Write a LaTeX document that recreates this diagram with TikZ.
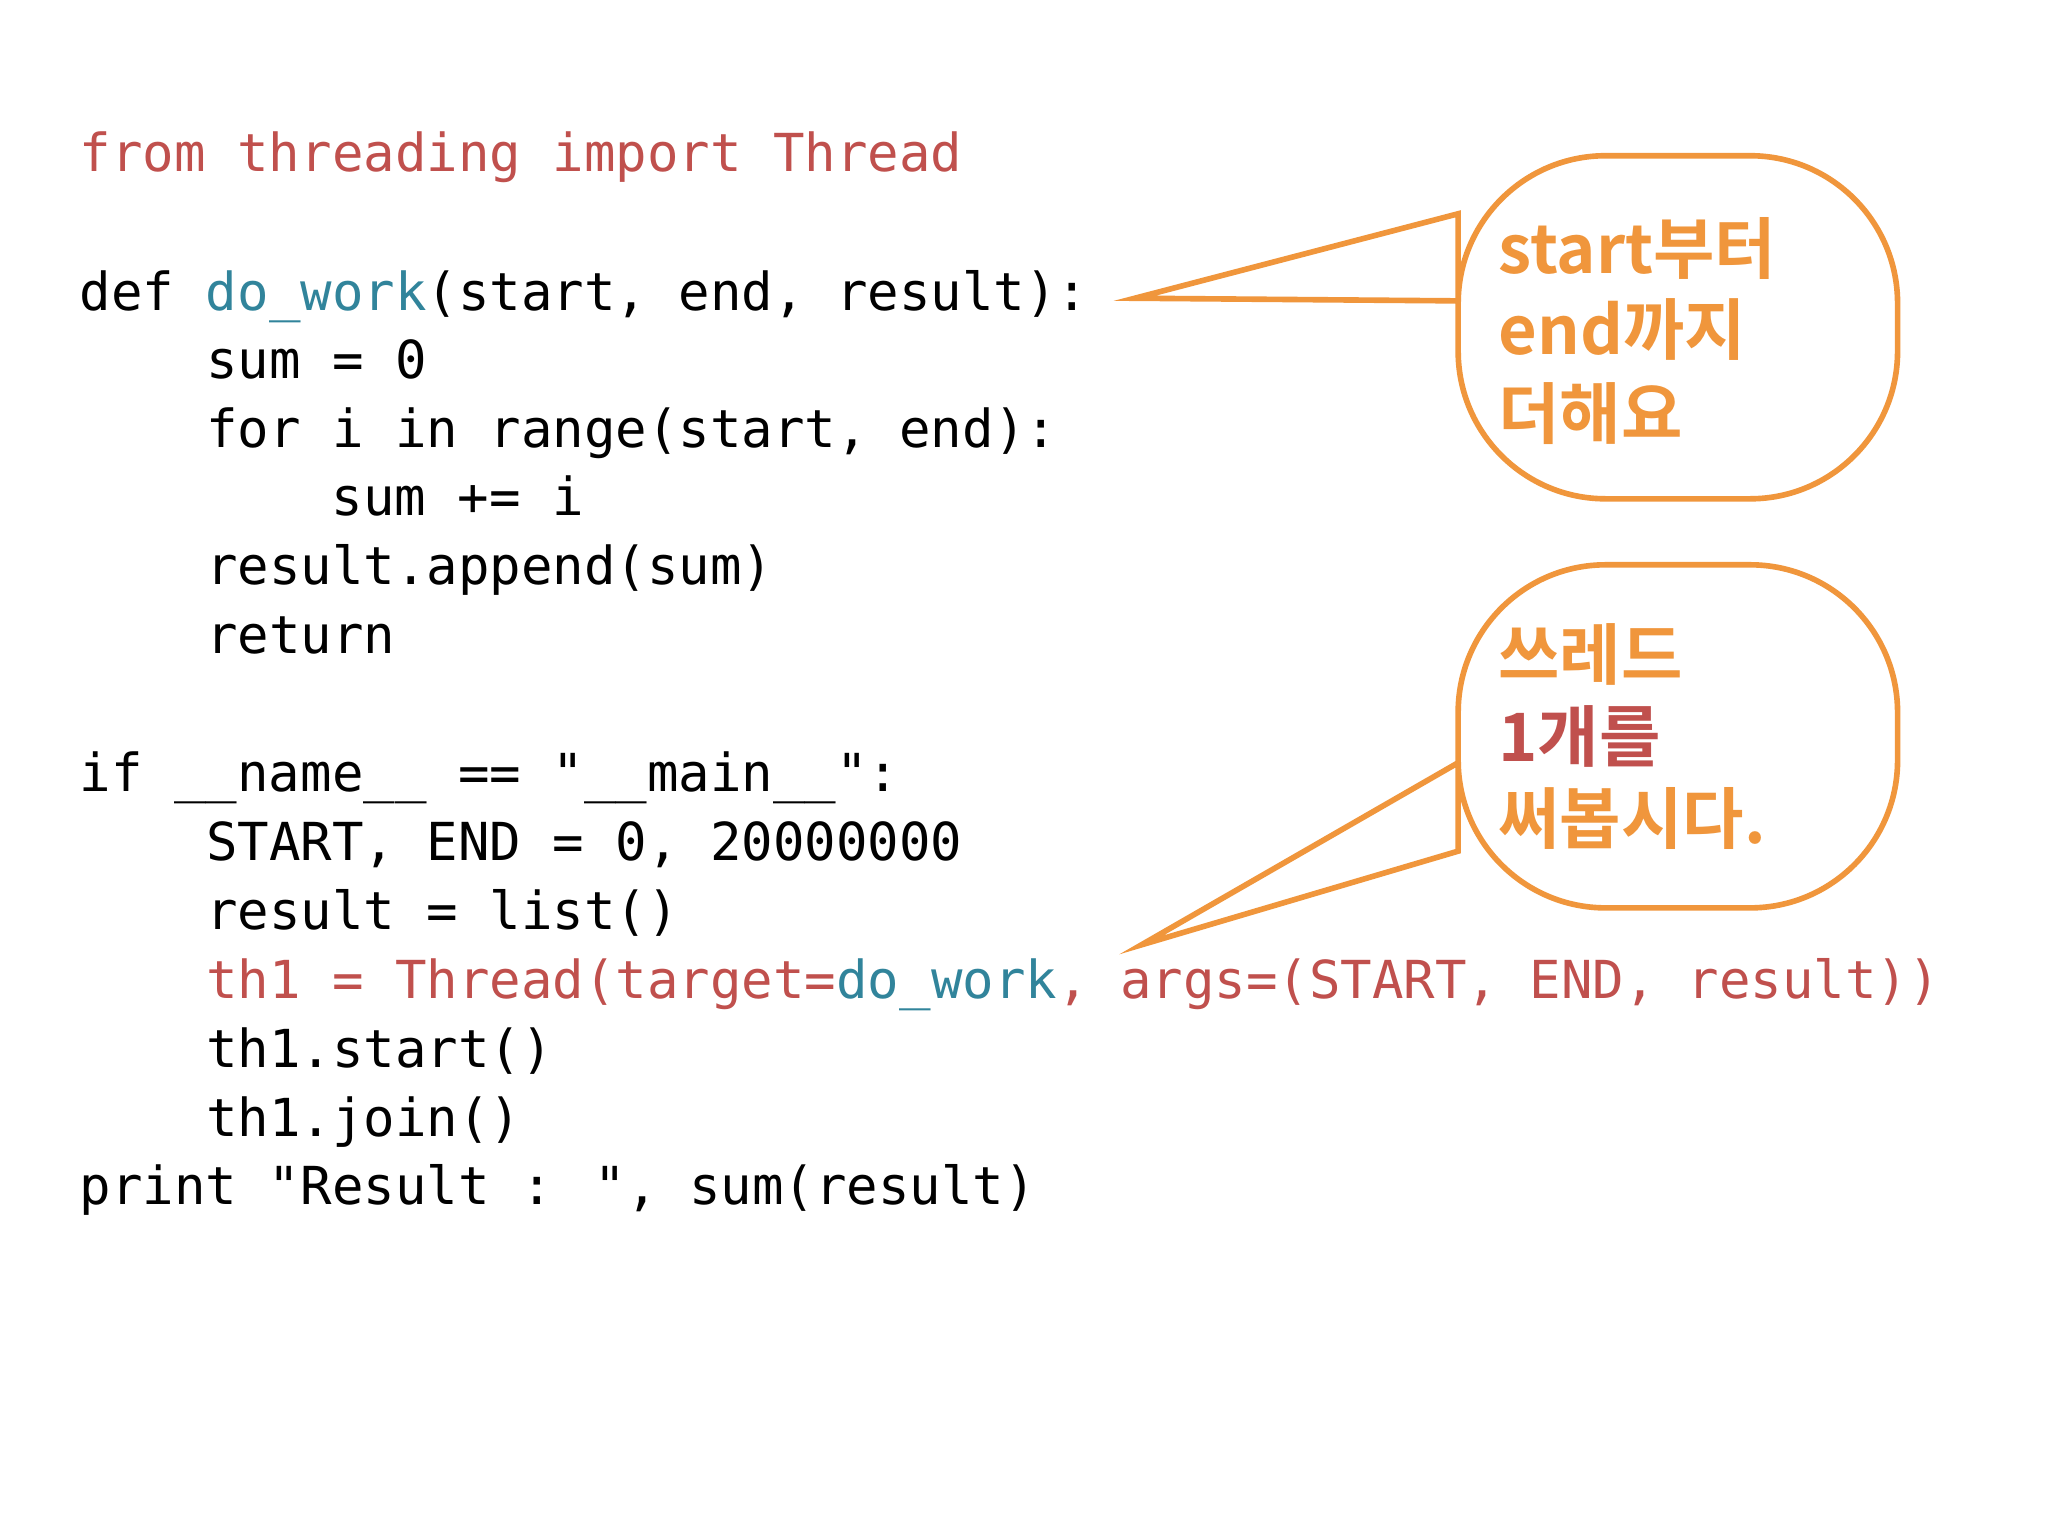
\documentclass[tikz,border=0pt]{standalone}
\usepackage{fontspec}
\newfontfamily\code{DejaVu Sans Mono}
\newfontfamily\kor{Noto Sans CJK KR Bold}
\definecolor{kred}{HTML}{C0504D}
\definecolor{kteal}{HTML}{31849B}
\definecolor{korange}{HTML}{F0963C}
\begin{document}
\begin{tikzpicture}[x=0.0132cm,y=-0.0132cm,
  ln/.style={anchor=base west,inner sep=0pt,font=\code\fontsize{14.9}{18}\selectfont},
  ko/.style={anchor=base west,inner sep=0pt,font=\kor\fontsize{19}{22}\selectfont,text=korange},
  bub/.style={draw=korange,line width=1.6pt,fill=white}]
\useasboundingbox[fill=white] (0,0) rectangle (1552,1164);
\node[ln,text=kred] (l1) at (60,130) {from threading import Thread};
\node[ln] (l2) at (60,235) {def \textcolor{kteal}{do\_work}(start, end, result):};
\node[ln] (l3) at (155.6,287) {sum = 0};
\node[ln] (l4) at (155.6,339) {for i in range(start, end):};
\node[ln] (l5) at (251,391) {sum += i};
\node[ln] (l6) at (155.6,443) {result.append(sum)};
\node[ln] (l7) at (155.6,495) {return};
\node[ln] (l8) at (60,600) {if \_\_name\_\_ == "\_\_main\_\_":};
\node[ln] (l9) at (155.6,652) {START, END = 0, 20000000};
\node[ln] (l10) at (155.6,704) {result = list()};
\node[ln,text=kred] (l11) at (155.6,757) {th1 = Thread(target=\textcolor{kteal}{do\_work}, args=(START, END, result))};
\node[ln] (l12) at (155.6,809) {th1.start()};
\node[ln] (l13) at (155.6,861) {th1.join()};
\node[ln] (l14) at (60,913) {print "Result : ", sum(result)};
% callout 1
\draw[bub] (1105,228) [rounded corners=42] -- (1105,378) -- (1438,378) -- (1438,118) -- (1105,118) [sharp corners] -- (1105,162) -- (860,226) -- cycle;
\node[ko] (a1) at (1135,207) {start부터};
\node[ko] (a2) at (1135,269) {end까지};
\node[ko] (a3) at (1135,332) {더해요};
% callout 2
\draw[bub] (1105,645) [rounded corners=42] -- (1105,688) -- (1438,688) -- (1438,428) -- (1105,428) [sharp corners] -- (1105,578) -- (865,716) -- cycle;
\node[ko] (b1) at (1135,515) {쓰레드};
\node[ko,text=kred] (b2) at (1135,577) {1개를};
\node[ko] (b3) at (1135,639) {써봅시다.};
\end{tikzpicture}
\end{document}
